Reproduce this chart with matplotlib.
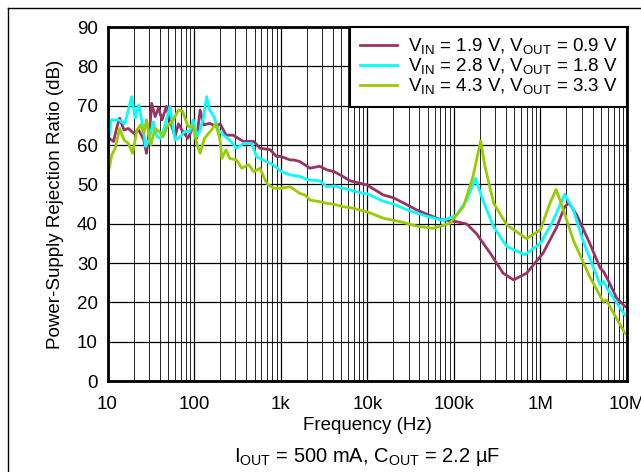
import numpy as np
import matplotlib
matplotlib.use('Agg')
import matplotlib.pyplot as plt
from matplotlib.lines import Line2D
from matplotlib.ticker import FixedLocator, LogLocator, NullFormatter

plt.rcParams['font.family'] = ['Liberation Sans', 'DejaVu Sans']
plt.rcParams['mathtext.fontset'] = 'custom'
plt.rcParams['mathtext.rm'] = 'Liberation Sans'

# log10(frequency) and PSRR (dB)
purple_logf = [1.0, 1.02, 1.07, 1.11, 1.14, 1.19, 1.24, 1.30, 1.36, 1.42, 1.45, 1.49, 1.51,
               1.55, 1.59, 1.63, 1.68, 1.72, 1.78, 1.82, 1.87, 1.93, 1.99, 2.03, 2.07, 2.11,
               2.18, 2.26, 2.30, 2.37, 2.45, 2.57, 2.69, 2.76, 2.88, 2.95, 3.0, 3.11, 3.15,
               3.22, 3.34, 3.45, 3.53, 3.62, 3.72, 3.80, 3.91, 4.0, 4.185, 4.3, 4.45, 4.57,
               4.7, 4.84, 5.03, 5.15, 5.26, 5.42, 5.57, 5.69, 5.84, 6.03, 6.19, 6.28, 6.33,
               6.42, 6.57, 6.69, 6.73, 6.78, 6.88, 6.975, 7.0]
purple_db = [62.0, 61.7, 60.9, 64.7, 66.8, 63.8, 64.2, 63.0, 63.8, 61.3, 57.9, 64.7, 70.6,
             67.2, 69.4, 66.4, 69.8, 66.4, 62.1, 65.4, 63.4, 61.7, 64.7, 61.7, 68.9, 65.1,
             65.5, 64.7, 65.4, 62.5, 62.5, 60.9, 60.9, 59.2, 58.8, 57.1, 57.1, 56.2, 56.2,
             55.8, 54.1, 54.6, 53.7, 53.2, 52.0, 50.9, 50.3, 49.8, 47.3, 46.6, 44.9, 43.5,
             42.3, 41.1, 40.5, 39.9, 37.5, 32.5, 27.4, 25.7, 27.4, 32.5, 39.2, 44.3, 45.3,
             42.2, 35.0, 28.7, 27.8, 25.7, 21.1, 19.0, 18.7]

cyan_logf = [1.0, 1.02, 1.04, 1.125, 1.2, 1.24, 1.28, 1.32, 1.36, 1.41, 1.44, 1.48, 1.53,
             1.57, 1.61, 1.66, 1.72, 1.78, 1.84, 1.89, 1.95, 1.99, 2.03, 2.07, 2.11, 2.145,
             2.18, 2.23, 2.28, 2.34, 2.41, 2.49, 2.57, 2.665, 2.72, 2.80, 2.91, 3.01, 3.11,
             3.22, 3.32, 3.45, 3.53, 3.62, 3.72, 3.80, 3.91, 4.0, 4.185, 4.3, 4.45, 4.57,
             4.7, 4.88, 5.03, 5.15, 5.25, 5.34, 5.46, 5.61, 5.82, 6.0, 6.15, 6.28, 6.38,
             6.49, 6.69, 6.73, 6.78, 6.975, 7.0]
cyan_db = [62.0, 62.5, 66.4, 66.4, 65.4, 68.9, 72.3, 66.8, 70.2, 64.7, 59.6, 61.3, 65.9,
           62.1, 61.7, 64.7, 69.8, 61.3, 62.1, 63.4, 63.4, 66.4, 62.1, 63.8, 67.2, 72.3,
           68.9, 67.2, 63.8, 62.5, 61.3, 59.2, 60.4, 60.4, 57.0, 56.2, 55.0, 53.2, 52.4,
           52.0, 51.1, 50.9, 49.4, 49.6, 49.0, 48.6, 47.9, 47.6, 45.7, 45.0, 43.6, 42.7,
           41.8, 40.8, 42.2, 46.0, 51.5, 45.7, 39.2, 34.2, 32.1, 35.0, 40.9, 47.5, 43.5,
           35.8, 24.4, 25.3, 23.2, 16.8, 16.5]

green_logf = [1.0, 1.02, 1.05, 1.09, 1.14, 1.19, 1.24, 1.29, 1.34, 1.38, 1.42, 1.45, 1.50,
              1.55, 1.60, 1.64, 1.70, 1.76, 1.82, 1.87, 1.93, 1.99, 2.03, 2.07, 2.12, 2.20,
              2.25, 2.30, 2.32, 2.37, 2.41, 2.49, 2.55, 2.63, 2.69, 2.76, 2.84, 2.92, 3.0,
              3.11, 3.22, 3.28, 3.34, 3.45, 3.53, 3.62, 3.72, 3.80, 3.91, 4.0, 4.185, 4.4,
              4.57, 4.76, 4.955, 5.11, 5.22, 5.31, 5.36, 5.46, 5.61, 5.84, 6.0, 6.11, 6.18,
              6.24, 6.38, 6.57, 6.725, 6.76, 6.975, 7.0]
green_db = [54.5, 54.1, 57.5, 59.2, 64.2, 61.3, 60.4, 57.9, 63.8, 65.1, 63.0, 66.4, 60.0,
            64.2, 63.4, 62.1, 65.1, 66.4, 68.9, 68.5, 64.7, 64.7, 60.4, 57.9, 61.7, 63.8,
            65.4, 61.3, 56.6, 58.8, 56.6, 56.2, 54.1, 55.0, 53.2, 54.1, 50.2, 49.0, 49.0,
            49.4, 47.7, 47.3, 46.0, 45.6, 45.2, 44.9, 44.3, 44.1, 43.5, 43.0, 41.4, 40.4,
            39.4, 38.8, 40.1, 44.3, 51.9, 61.1, 54.5, 45.2, 39.7, 36.2, 38.4, 45.2, 48.7,
            45.2, 35.8, 26.5, 20.2, 20.6, 12.2, 11.9]

labels = [r'V$_{\mathregular{IN}}$ = 1.9 V, V$_{\mathregular{OUT}}$ = 0.9 V',
          r'V$_{\mathregular{IN}}$ = 2.8 V, V$_{\mathregular{OUT}}$ = 1.8 V',
          r'V$_{\mathregular{IN}}$ = 4.3 V, V$_{\mathregular{OUT}}$ = 3.3 V']
colors = ['#993366', '#00FFFF', '#99CC00']

x_ticks = [10, 100, 1e3, 1e4, 1e5, 1e6, 1e7]
x_ticklabels = ['10', '100', '1k', '10k', '100k', '1M', '10M']
y_ticks = list(range(0, 100, 10))

fs = 13.5

fig = plt.figure(figsize=(6.41, 4.72), dpi=100)
ax = fig.add_axes([107.5 / 641, 1 - 381 / 472, 519.5 / 641, 354 / 472])

series = [(purple_logf, purple_db), (cyan_logf, cyan_db), (green_logf, green_db)]
for (lf, db), c, lab in zip(series, colors, labels):
    ax.plot(10 ** np.array(lf), db, color=c, lw=2, label=lab)

ax.set_xscale('log')
ax.set_xlim(10, 1e7)
ax.set_ylim(0, 90)
ax.xaxis.set_major_locator(FixedLocator(x_ticks))
ax.set_xticklabels(x_ticklabels)
ax.xaxis.set_minor_locator(LogLocator(base=10, subs=np.arange(2, 10)))
ax.xaxis.set_minor_formatter(NullFormatter())
ax.set_yticks(y_ticks)
ax.tick_params(which='both', length=0, labelsize=fs)
ax.tick_params(axis='x', pad=11)
ax.tick_params(axis='y', pad=7)
ax.grid(which='major', color='black', lw=0.9)
ax.grid(which='minor', axis='x', color='black', lw=0.6)
ax.set_axisbelow(True)
for s in ax.spines.values():
    s.set_linewidth(2)

ax.set_xlabel('Frequency (Hz)', fontsize=fs, labelpad=3)
ax.set_ylabel('Power-Supply Rejection Ratio (dB)', fontsize=fs, labelpad=9)

leg = ax.legend(loc='upper right', borderaxespad=0, fontsize=fs, frameon=True,
                fancybox=False, framealpha=1, edgecolor='black', handlelength=2.0,
                handletextpad=0.55, labelspacing=0.0, borderpad=0.5)
leg.get_frame().set_linewidth(1.5)

fig.text(367 / 641, 1 - 457 / 472,
         r'I$_{\mathregular{OUT}}$ = 500 mA, C$_{\mathregular{OUT}}$ = 2.2 µF',
         ha='center', va='center', fontsize=14.5)

# outer frame of the original figure box
fig.add_artist(Line2D([8 / 641, 8 / 641], [0, 1 - 8 / 472], color='black', lw=1))
fig.add_artist(Line2D([8 / 641, 1], [1 - 8 / 472, 1 - 8 / 472], color='black', lw=1))

fig.savefig('out.png', dpi=100)
